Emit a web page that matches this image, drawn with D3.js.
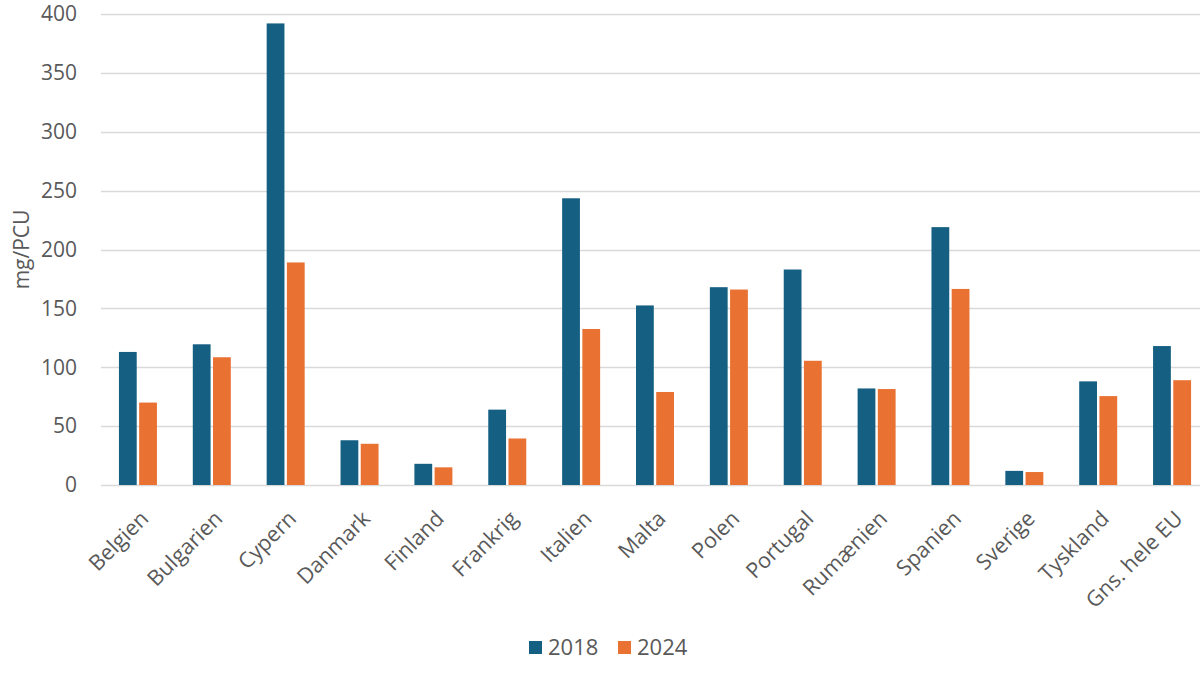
<!DOCTYPE html>
<html lang="da">
<head>
<meta charset="UTF-8">
<title>mg/PCU 2018 vs 2024</title>
<script src="https://d3js.org/d3.v7.min.js"></script>
<style>
    body, html {
        margin: 0;
        padding: 0;
        background: #fff;
        font-family: 'Open Sans', 'Liberation Sans', sans-serif;
    }
    svg { display: block; }
</style>
</head>
<body>
<svg id="chart"></svg>
<script>
    const countries = ['Belgien', 'Bulgarien', 'Cypern', 'Danmark', 'Finland', 'Frankrig', 'Italien',
        'Malta', 'Polen', 'Portugal', 'Rumænien', 'Spanien', 'Sverige', 'Tyskland', 'Gns. hele EU'];
    const values2018 = [113, 119.5, 392, 38, 18, 64, 243.5, 152.5, 168, 183, 82, 219, 12, 88, 118];
    const values2024 = [70, 108.5, 189, 35, 15, 39.5, 132.5, 79, 166, 105.5, 81.5, 166.5, 11, 75.5, 89];
    const seriesNames = ['2018', '2024'];
    const yTicks = [0, 50, 100, 150, 200, 250, 300, 350, 400];

    const width = 1200, height = 673;
    const margin = { top: 14, right: -9, bottom: 188, left: 101 };
    const colors = ['#156082', '#E97132'];
    const textColor = '#595959';

    const svg = d3.select('#chart')
        .attr('width', width)
        .attr('height', height);

    const x = d3.scaleBand()
        .domain(countries)
        .range([margin.left, width - margin.right])
        .paddingInner(0)
        .paddingOuter(0);

    const x1 = d3.scaleBand()
        .domain(seriesNames)
        .range([x.bandwidth() / 2 - 19, x.bandwidth() / 2 + 19])
        .paddingInner(0.12);

    const y = d3.scaleLinear()
        .domain([0, 400])
        .range([height - margin.bottom, margin.top]);

    // gridlines
    svg.append('g')
        .selectAll('line')
        .data(yTicks)
        .join('line')
        .attr('x1', margin.left)
        .attr('x2', width)
        .attr('y1', d => Math.round(y(d)) + 0.5)
        .attr('y2', d => Math.round(y(d)) + 0.5)
        .attr('stroke', '#d9d9d9')
        .attr('stroke-width', 1.3);

    // y tick labels
    svg.append('g')
        .selectAll('text')
        .data(yTicks)
        .join('text')
        .attr('x', 77)
        .attr('y', d => y(d))
        .attr('dy', '0.35em')
        .attr('text-anchor', 'end')
        .attr('fill', textColor)
        .style('font-size', '21px')
        .text(d => d);

    // y axis title
    svg.append('text')
        .attr('transform', 'translate(29,' + y(200) + ') rotate(-90)')
        .attr('text-anchor', 'middle')
        .attr('fill', textColor)
        .style('font-size', '21px')
        .text('mg/PCU');

    // bars
    const series = [values2018, values2024];
    const groups = svg.append('g')
        .selectAll('g')
        .data(countries)
        .join('g')
        .attr('transform', d => 'translate(' + x(d) + ',0)');

    groups.selectAll('rect')
        .data((d, i) => series.map((s, k) => ({ key: seriesNames[k], value: s[i], k })))
        .join('rect')
        .attr('x', d => x1(d.key))
        .attr('width', x1.bandwidth())
        .attr('y', d => y(d.value))
        .attr('height', d => y(0) - y(d.value))
        .attr('fill', d => colors[d.k]);

    // category labels
    svg.append('g')
        .selectAll('text')
        .data(countries)
        .join('text')
        .attr('transform', d => 'translate(' + (x(d) + x.bandwidth() / 2 + 12) + ',' + 520 + ') rotate(-45)')
        .attr('text-anchor', 'end')
        .attr('fill', textColor)
        .style('font-size', '21.5px')
        .text(d => d);

    // legend
    const legend = svg.append('g')
        .attr('transform', 'translate(529,647)');
    const legendItems = legend.selectAll('g')
        .data(seriesNames)
        .join('g')
        .attr('transform', (d, i) => 'translate(' + (i * 89) + ',0)');
    legendItems.append('rect')
        .attr('x', 0)
        .attr('y', -6)
        .attr('width', 13)
        .attr('height', 13)
        .attr('fill', (d, i) => colors[i]);
    legendItems.append('text')
        .attr('x', 19)
        .attr('y', 0)
        .attr('dy', '0.35em')
        .attr('fill', textColor)
        .style('font-size', '22px')
        .text(d => d);
</script>
</body>
</html>
